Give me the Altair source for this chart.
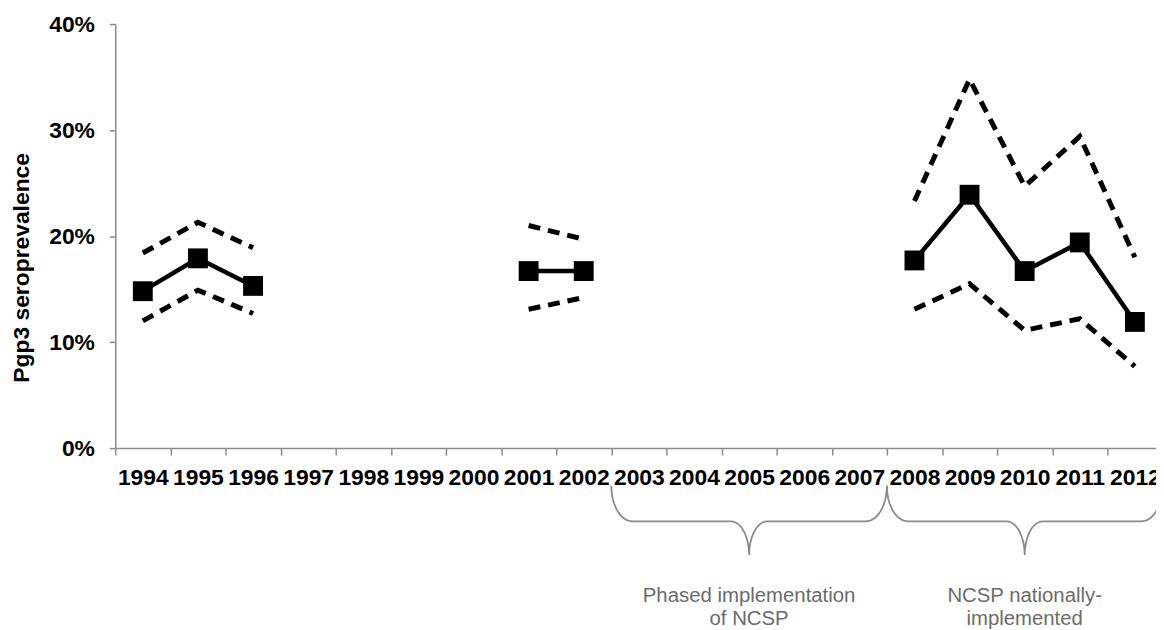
import math
import altair as alt
import pandas as pd

# ---------------- data ----------------
all_years = list(range(1994, 2013))                      # category axis labels
years     = [1994, 1995, 1996, 2001, 2002, 2008, 2009, 2010, 2011, 2012]
segment   = [1, 1, 1, 2, 2, 3, 3, 3, 3, 3]              # separate survey periods
mean_vals  = [0.148, 0.179, 0.153, 0.167, 0.167, 0.177, 0.239, 0.167, 0.194, 0.119]
lower_vals = [0.120, 0.149, 0.127, 0.131, 0.142, 0.131, 0.155, 0.111, 0.122, 0.077]
upper_vals = [0.184, 0.213, 0.189, 0.210, 0.197, 0.233, 0.348, 0.247, 0.294, 0.180]

brace_start  = [2002.5, 2007.5]
brace_end    = [2007.5, 2012.5]
brace_labels = ["Phased implementation\nof NCSP", "NCSP nationally-\nimplemented"]

# ---------------- tables ----------------
mean_df = pd.DataFrame({"year": years, "value": mean_vals, "segment": segment})
ci_df = pd.concat([
    pd.DataFrame({"year": years, "value": lower_vals, "segment": segment, "bound": "lower"}),
    pd.DataFrame({"year": years, "value": upper_vals, "segment": segment, "bound": "upper"}),
])
ci_df["grp"] = ci_df["bound"] + "_" + ci_df["segment"].astype(str)

# curly-brace outlines (shape parameters, in year units / pixels below the axis)
END_Y, MID_Y, TIP_Y = 38.0, 73.7, 107.7
END_R, TIP_R = 0.38, 0.33
rows = []
for b, (x0, x1) in enumerate(zip(brace_start, brace_end)):
    xc = (x0 + x1) / 2
    pts = []
    n = 12
    for i in range(n + 1):
        t = (math.pi / 2) * i / n
        pts.append((x0 + END_R - END_R * math.cos(t), END_Y + (MID_Y - END_Y) * math.sin(t)))
    for i in range(n + 1):
        t = (math.pi / 2) * i / n
        pts.append((xc - TIP_R + TIP_R * math.sin(t), TIP_Y - (TIP_Y - MID_Y) * math.cos(t)))
    left = list(pts)
    for (px, py) in reversed(left[:-1]):
        pts.append((2 * xc - px, py))
    for k, (px, py) in enumerate(pts):
        rows.append({"brace": b, "order": k, "bx": px, "by": py})
brace_df = pd.DataFrame(rows)
label_df = pd.DataFrame({
    "bx": [(a + b) / 2 for a, b in zip(brace_start, brace_end)],
    "by": [149.0, 149.0],
    "label": brace_labels,
})

FONT = "Liberation Sans"
PLOT_W = 1048
PLOT_H = 427
BAND_RANGE = [0, 1054.5]

x_enc = alt.X(
    "year:O",
    scale=alt.Scale(type="band", domain=all_years, range=BAND_RANGE, paddingInner=0, paddingOuter=0),
    axis=alt.Axis(
        title=None, labelAngle=0, tickBand="extent", tickSize=7, tickColor="#8c8c8c",
        domainColor="#8c8c8c", domainWidth=1.5, tickWidth=1.5, labelPadding=12,
        labelFont=FONT, labelFontSize=23, labelFontWeight="bold", labelColor="#000000",
        grid=False, labelOverlap=False, labelBound=False,
    ),
)
y_enc = alt.Y(
    "value:Q",
    scale=alt.Scale(domain=[0, 0.4], nice=False),
    axis=alt.Axis(
        title="Pgp3 seroprevalence", format=".0%", values=[0, 0.1, 0.2, 0.3, 0.4],
        tickSize=6, tickColor="#8c8c8c", domainColor="#8c8c8c", domainWidth=1.5, tickWidth=1.5,
        labelPadding=15, labelFont=FONT, labelFontSize=23, labelFontWeight="bold",
        labelColor="#000000", grid=False,
        titleFont=FONT, titleFontSize=23, titleFontWeight="bold", titleColor="#000000",
        titleAngle=-90, titleAlign="center", titleBaseline="middle", titleX=-94, titleY=245,
    ),
)

ci = alt.Chart(ci_df).mark_line(
    color="#000000", strokeWidth=5, strokeDash=[12, 8], strokeCap="butt"
).encode(x=x_enc, y=y_enc, detail="grp:N")

mean_line = alt.Chart(mean_df).mark_line(color="#000000", strokeWidth=4.5).encode(
    x=x_enc, y=y_enc, detail="segment:N"
)
pts = alt.Chart(mean_df).mark_point(
    shape="square", filled=True, size=400, color="#000000", opacity=1
).encode(x=x_enc, y=y_enc)

main = alt.layer(ci, mean_line, pts)

bx = alt.X("bx:Q", scale=alt.Scale(domain=[1993.5, 2012.5], range=BAND_RANGE, nice=False, zero=False), axis=None)
by = alt.Y("by:Q", scale=alt.Scale(domain=[0, 200], range=[PLOT_H, PLOT_H + 200], nice=False, zero=False), axis=None)

braces = alt.Chart(brace_df).mark_line(color="#8a8a8a", strokeWidth=1.8).encode(
    x=bx, y=by, detail="brace:N", order="order:Q"
)
texts = alt.Chart(label_df).mark_text(
    font=FONT, fontSize=20.5, color="#6b6b6b", lineBreak="\n", lineHeight=23,
    align="center", baseline="middle",
).encode(x=bx, y=by, text="label:N")

annot = alt.layer(braces, texts)

chart = alt.layer(main, annot).resolve_scale(x="independent", y="independent").properties(
    width=PLOT_W, height=PLOT_H,
    autosize=alt.AutoSizeParams(type="none"),
    padding={"left": 108, "top": 14, "right": 0, "bottom": 180},
    background="#ffffff",
).configure_view(stroke=None)

chart.save("out.html", embed_options={"renderer": "svg", "actions": False})
